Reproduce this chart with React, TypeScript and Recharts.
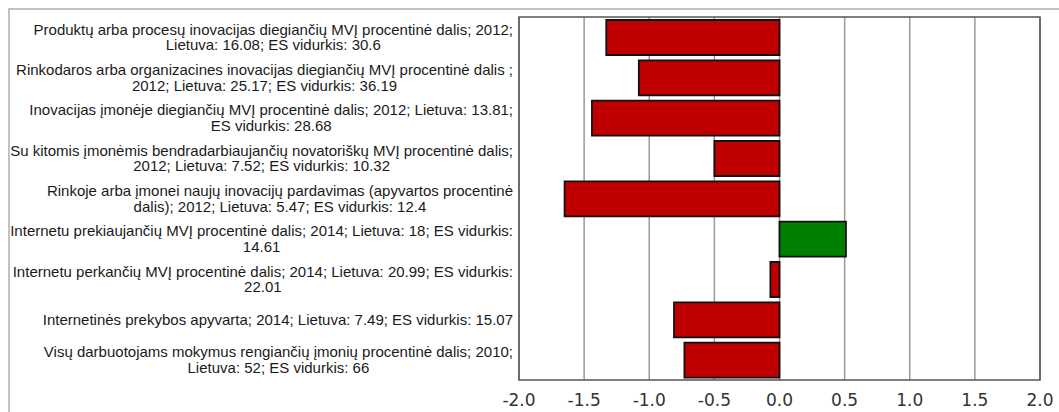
import React from 'react';
import { BarChart, Bar, XAxis, YAxis, CartesianGrid, Cell, ReferenceArea } from 'recharts';

const categories: string[] = [
  'Produktų arba procesų inovacijas diegiančių MVĮ procentinė dalis; 2012;\nLietuva: 16.08; ES vidurkis: 30.6',
  'Rinkodaros arba organizacines inovacijas diegiančių MVĮ procentinė dalis ;\n2012; Lietuva: 25.17; ES vidurkis: 36.19',
  'Inovacijas įmonėje diegiančių MVĮ procentinė dalis; 2012; Lietuva: 13.81;\nES vidurkis: 28.68',
  'Su kitomis įmonėmis bendradarbiaujančių novatoriškų MVĮ procentinė dalis;\n2012; Lietuva: 7.52; ES vidurkis: 10.32',
  'Rinkoje arba įmonei naujų inovacijų pardavimas (apyvartos procentinė\ndalis); 2012; Lietuva: 5.47; ES vidurkis: 12.4',
  'Internetu prekiaujančių MVĮ procentinė dalis; 2014; Lietuva: 18; ES vidurkis:\n14.61',
  'Internetu perkančių MVĮ procentinė dalis; 2014; Lietuva: 20.99; ES vidurkis:\n22.01',
  'Internetinės prekybos apyvarta; 2014; Lietuva: 7.49; ES vidurkis: 15.07',
  'Visų darbuotojams mokymus rengiančių įmonių procentinė dalis; 2010;\nLietuva: 52; ES vidurkis: 66',
];

const values: number[] = [-1.33, -1.08, -1.44, -0.5, -1.65, 0.51, -0.07, -0.81, -0.73];

const xTicks: number[] = [-2, -1.5, -1, -0.5, 0, 0.5, 1, 1.5, 2];

const data = categories.map((name, i) => ({ name, value: values[i] }));

const LABEL_FONT_SIZE = 15;
const LABEL_FONT = `${LABEL_FONT_SIZE}px "Liberation Sans", Arial, sans-serif`;
const LINE_HEIGHT = 15.5;
const LABEL_RIGHT = 513;

let ctx: CanvasRenderingContext2D | null = null;
function measure(s: string): number {
  if (!ctx) {
    const c = document.createElement('canvas');
    ctx = c.getContext('2d');
  }
  if (!ctx) return s.length * 6.5;
  ctx.font = LABEL_FONT;
  return ctx.measureText(s).width;
}

const LabelTick = (props: any) => {
  const { y, payload } = props;
  const lines: string[] = String(payload.value).split('\n');
  const maxW = Math.max(...lines.map(measure));
  const cx = LABEL_RIGHT - maxW / 2;
  const n = lines.length;
  return (
    <g>
      {lines.map((ln, i) => (
        <text
          key={i}
          x={cx}
          y={y + (i - (n - 1) / 2) * LINE_HEIGHT}
          dy="0.35em"
          textAnchor="middle"
          fontFamily='"Liberation Sans", Arial, sans-serif'
          fontSize={LABEL_FONT_SIZE}
          fill="#1a1a1a"
        >
          {ln}
        </text>
      ))}
    </g>
  );
};

export default function App() {
  return (
    <div style={{ position: 'absolute', left: 0, top: 0, width: 1059, height: 412, overflow: 'hidden', background: '#fff' }}>
      <div
        style={{
          position: 'absolute',
          left: 8,
          top: 8,
          width: 1200,
          height: 600,
          border: '2px solid #c2c2c2',
          boxSizing: 'border-box',
        }}
      />
      <div style={{ position: 'absolute', left: 0, top: 0 }}>
        <BarChart
          width={1059}
          height={412}
          data={data}
          layout="vertical"
          margin={{ top: 17, right: 19, bottom: 0, left: 0 }}
          barSize={35}
        >
          <CartesianGrid horizontal={false} vertical={true} stroke="#9a9a9a" strokeWidth={1.5} />
          <XAxis
            type="number"
            domain={[-2, 2]}
            ticks={xTicks}
            tickFormatter={(v: number) => v.toFixed(1)}
            axisLine={false}
            tickLine={false}
            tickMargin={8}
            height={32}
            tick={{ fontFamily: '"DejaVu Sans", Verdana, sans-serif', fontSize: 17, fill: '#333' }}
            allowDataOverflow
          />
          <YAxis
            type="category"
            dataKey="name"
            width={519}
            axisLine={false}
            tickLine={false}
            interval={0}
            tick={<LabelTick />}
          />
          <ReferenceArea x1={-2} x2={2} fill="none" stroke="#555" strokeWidth={1.5} ifOverflow="visible" />
          <Bar dataKey="value" isAnimationActive={false} stroke="#111" strokeWidth={1.8}>
            {data.map((d, i) => (
              <Cell key={i} fill={d.value >= 0 ? '#008000' : '#c00000'} />
            ))}
          </Bar>
        </BarChart>
      </div>
    </div>
  );
}
